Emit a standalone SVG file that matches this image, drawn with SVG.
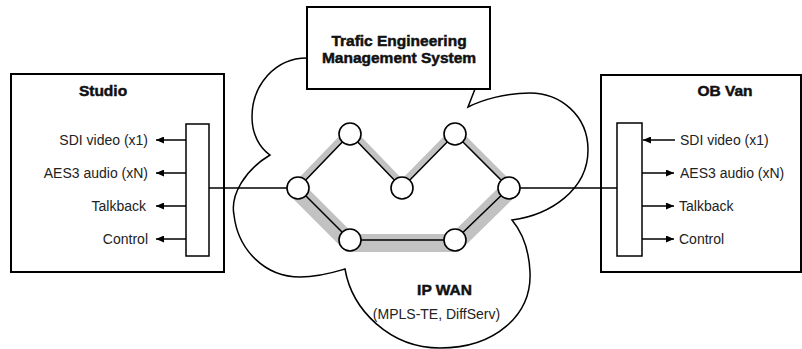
<svg xmlns="http://www.w3.org/2000/svg" width="802" height="349" viewBox="0 0 802 349">
  <style>
    .box { fill: #fff; stroke: #000; stroke-width: 2; }
    .port { fill: #fff; stroke: #000; stroke-width: 1.5; }
    .cloud { fill: #fff; stroke: #000; stroke-width: 1.5; stroke-linejoin: miter; }
    .router { fill: #fff; stroke: #000; stroke-width: 1.6; }
    .link { fill: none; stroke: #000; stroke-width: 1.5; }
    .band { fill: none; stroke: #c2c2c2; stroke-linejoin: miter; }
    .title { font-family: "Liberation Sans", Arial, sans-serif; font-weight: bold; font-size: 15.5px; fill: #111; stroke: #111; stroke-width: 0.5; text-anchor: middle; }
    .lbl { font-family: "Liberation Sans", Arial, sans-serif; font-size: 14px; fill: #222; }
  </style>
  <defs>
    <marker id="ah" markerUnits="userSpaceOnUse" markerWidth="8" markerHeight="7" refX="8" refY="3.5" orient="auto">
      <path d="M0,0 L8,3.5 L0,7 z" fill="#000"/>
    </marker>
  </defs>

  <rect width="802" height="349" fill="#fff"/>

  <g id="ip-wan">
    <path class="cloud" d="M307,58 C275,58 252,85 252,117 C252,135 260,148 270,155 C245,170 230,195 234,215 C238,250 265,277 300,277 C320,277 335,272 345,269 C352,310 390,348 440,348 C495,348 532,315 530,272 C529,250 522,232 512,220 C550,215 588,190 588,150 C588,115 560,93 530,93 C505,93 482,100 468,107 L475,89"/>
    <text class="title" x="444.5" y="295">IP WAN</text>
    <text class="lbl" x="436.5" y="319" text-anchor="middle">(MPLS-TE, DiffServ)</text>
  </g>

  <g id="te-system">
    <rect class="box" x="307" y="7" width="183" height="82"/>
    <text class="title" x="399" y="46" font-size="16">Trafic Engineering</text>
    <text class="title" x="399" y="62.5" font-size="16">Management System</text>
  </g>

  <g id="studio">
    <rect class="box" x="11" y="74" width="213" height="198"/>
    <text class="title" x="103" y="96">Studio</text>
    <rect class="port" x="186" y="124" width="23" height="132"/>
    <text class="lbl" x="148" y="145" text-anchor="end">SDI video (x1)</text>
    <text class="lbl" x="148" y="178" text-anchor="end">AES3 audio (xN)</text>
    <text class="lbl" x="146" y="211" text-anchor="end">Talkback</text>
    <text class="lbl" x="148" y="244" text-anchor="end">Control</text>
  </g>

  <g id="ob-van">
    <rect class="box" x="601" y="75" width="200" height="197"/>
    <text class="title" x="725" y="96">OB Van</text>
    <rect class="port" x="617" y="123" width="25" height="133"/>
    <text class="lbl" x="680" y="145">SDI video (x1)</text>
    <text class="lbl" x="680" y="178">AES3 audio (xN)</text>
    <text class="lbl" x="679" y="211">Talkback</text>
    <text class="lbl" x="679" y="244">Control</text>
  </g>

  <g id="connectors">
    <polyline class="band" stroke-width="7" points="298,184 350,130 402,184 455,130 509,184"/>
    <polyline class="band" stroke-width="18" points="297,190 350,243 455,243 509,190"/>
    <polyline class="link" points="298,188 350,134 402,188 455,134 509,188"/>
    <polyline class="link" points="298,188 350,240 455,240 509,188"/>
    <line class="link" x1="209" y1="188" x2="287" y2="188"/>
    <line class="link" x1="520" y1="188" x2="617" y2="188"/>
    <line class="link" x1="186" y1="140" x2="156" y2="140" marker-end="url(#ah)"/>
    <line class="link" x1="186" y1="173" x2="156" y2="173" marker-end="url(#ah)"/>
    <line class="link" x1="186" y1="206" x2="156" y2="206" marker-end="url(#ah)"/>
    <line class="link" x1="186" y1="239" x2="156" y2="239" marker-end="url(#ah)"/>
    <line class="link" x1="675" y1="140" x2="643" y2="140" marker-end="url(#ah)"/>
    <line class="link" x1="642" y1="173" x2="674" y2="173" marker-end="url(#ah)"/>
    <line class="link" x1="642" y1="206" x2="674" y2="206" marker-end="url(#ah)"/>
    <line class="link" x1="642" y1="239" x2="674" y2="239" marker-end="url(#ah)"/>
  </g>

  <g id="router-1"><circle class="router" cx="298" cy="188" r="11"/></g>
  <g id="router-2"><circle class="router" cx="350" cy="134" r="11"/></g>
  <g id="router-3"><circle class="router" cx="402" cy="188" r="11"/></g>
  <g id="router-4"><circle class="router" cx="455" cy="134" r="11"/></g>
  <g id="router-5"><circle class="router" cx="509" cy="188" r="11"/></g>
  <g id="router-6"><circle class="router" cx="350" cy="240" r="11"/></g>
  <g id="router-7"><circle class="router" cx="455" cy="240" r="11"/></g>
</svg>
